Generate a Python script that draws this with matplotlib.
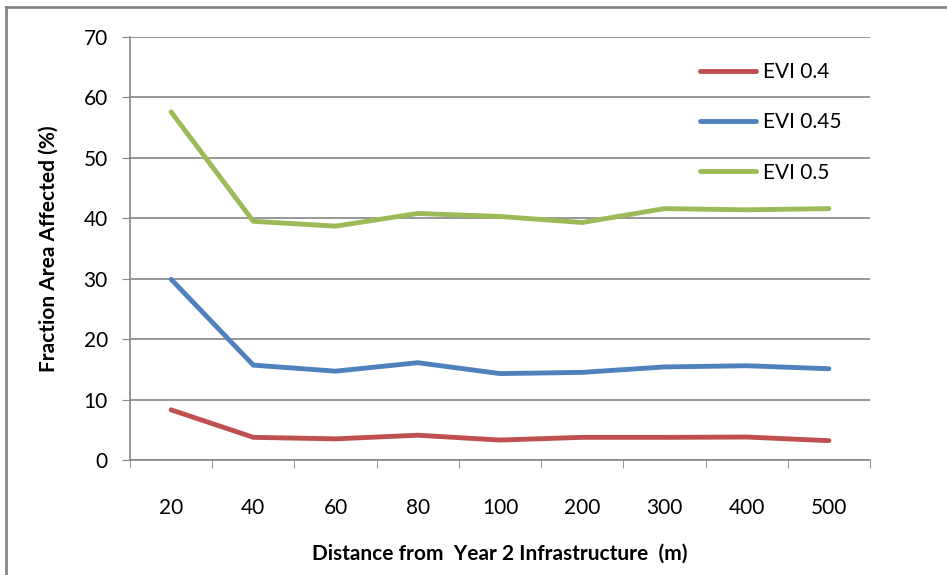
import matplotlib.pyplot as plt
from matplotlib.lines import Line2D

plt.rcParams['font.family'] = ['Lato', 'DejaVu Sans']

distances = ["20", "40", "60", "80", "100", "200", "300", "400", "500"]
evi_04 = [8.3, 3.75, 3.5, 4.1, 3.3, 3.75, 3.75, 3.8, 3.2]
evi_045 = [29.9, 15.7, 14.7, 16.1, 14.3, 14.5, 15.4, 15.6, 15.1]
evi_05 = [57.6, 39.5, 38.7, 40.8, 40.3, 39.3, 41.6, 41.4, 41.6]

fig = plt.figure(figsize=(9.47, 5.75), dpi=100)
ax = fig.add_axes([130 / 947, 1 - 460 / 575, 740 / 947, 423 / 575])

x = list(range(len(distances)))
ax.plot(x, evi_04, color="#c0504d", lw=3.5, label="EVI 0.4", solid_capstyle="round")
ax.plot(x, evi_045, color="#4f81bd", lw=3.5, label="EVI 0.45", solid_capstyle="round")
ax.plot(x, evi_05, color="#9bbb59", lw=3.5, label="EVI 0.5", solid_capstyle="round")

ax.set_xlim(-0.5, len(distances) - 0.5)
ax.set_ylim(0, 70)
ax.set_yticks(range(0, 71, 10))
ax.set_xticks(x)
ax.set_xticklabels(distances)
ax.set_xticks([i - 0.5 for i in range(len(distances) + 1)], minor=True)
ax.tick_params(axis="x", which="major", length=0, pad=27, labelsize=15)
ax.tick_params(axis="x", which="minor", length=6, color="#868686")
ax.tick_params(axis="y", length=6, color="#868686", labelsize=15, pad=10)

ax.grid(axis="y", color="#868686", lw=1.2)
ax.set_axisbelow(True)
for s in ["top", "right"]:
    ax.spines[s].set_visible(False)
for s in ["left", "bottom"]:
    ax.spines[s].set_color("#868686")
    ax.spines[s].set_linewidth(1.2)

ax.set_ylabel("Fraction Area Affected (%)", fontsize=15, fontweight="bold", labelpad=18)
ax.set_xlabel("Distance from  Year 2 Infrastructure  (m)", fontsize=15, fontweight="bold", labelpad=19)

ax.legend(loc="upper left", bbox_to_anchor=(0.745, 0.985), frameon=False, fontsize=15,
          handlelength=2.7, handletextpad=0.3, labelspacing=1.45)

# outer chart border
fig.add_artist(Line2D([5.5 / 947, 5.5 / 947], [0, 1 - 7 / 575], color="#868686", lw=2))
fig.add_artist(Line2D([5.5 / 947, 1], [1 - 7 / 575, 1 - 7 / 575], color="#868686", lw=2))

fig.savefig("out.png", dpi=100)
